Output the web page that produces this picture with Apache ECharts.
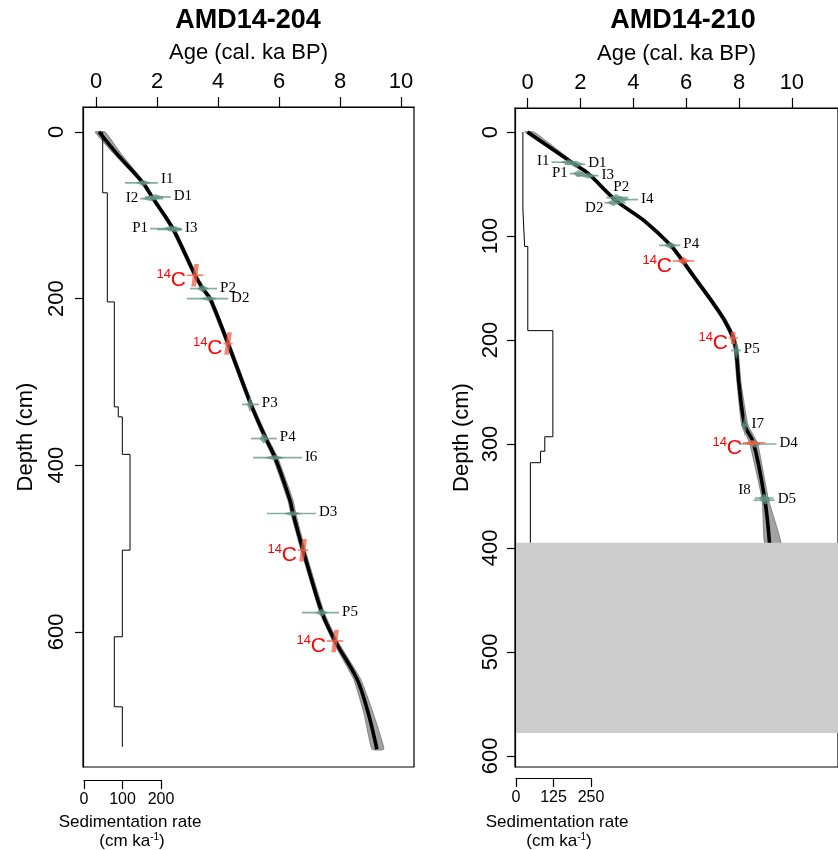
<!DOCTYPE html>
<html><head><meta charset="utf-8">
<script src="https://cdn.jsdelivr.net/npm/echarts@6/dist/echarts.min.js"></script>
<style>html,body{margin:0;padding:0;background:#fff}#c{width:838px;height:850px}</style>
</head><body><div id="c"></div>
<script>
// ================= DATA =================
// ---- AMD14-204 (left) ----
const L_curveDepth = [0, 26, 61, 78, 116, 172, 188, 200, 254, 327, 368, 391, 442, 458, 502, 577, 611, 657, 697, 741];
const L_curveAge   = [0.10, 0.68, 1.54, 1.84, 2.52, 3.25, 3.50, 3.74, 4.33, 5.08, 5.57, 5.87, 6.36, 6.46, 6.79, 7.41, 7.84, 8.56, 8.92, 9.21];
const L_bandMin    = [-0.03, 0.58, 1.48, 1.78, 2.46, 3.19, 3.44, 3.68, 4.27, 5.02, 5.50, 5.80, 6.29, 6.39, 6.72, 7.34, 7.76, 8.45, 8.78, 9.05];
const L_bandMax    = [0.30, 0.82, 1.60, 1.90, 2.58, 3.31, 3.56, 3.80, 4.39, 5.14, 5.64, 5.96, 6.46, 6.55, 6.86, 7.48, 7.92, 8.68, 9.08, 9.44];
const L_sedRate    = [48.6, 60.5, 78.7, 89, 99.5, 119.5, 99.5, 78.7, 99.5];
const L_sedTop     = [0, 73, 204, 330, 342, 387, 502, 606, 690];
const L_sedBottom  = [73, 204, 330, 342, 387, 502, 606, 690, 738];
const L_dateName   = ['I1', 'I2', 'D1', 'P1', 'I3', 'P2', 'D2', 'P3', 'P4', 'I6', 'D3', 'P5'];
const L_dateDepth  = [61, 80, 78, 116, 117, 188, 200, 327, 368, 391, 458, 577];
const L_dateAge    = [1.55, 1.80, 1.95, 2.45, 2.60, 3.50, 3.70, 5.05, 5.50, 5.85, 6.45, 7.40];
const L_dateMin    = [0.95, 1.45, 1.60, 1.77, 2.00, 3.08, 2.98, 4.79, 5.08, 5.15, 5.60, 6.75];
const L_dateMax    = [2.03, 2.20, 2.45, 2.80, 2.82, 3.97, 4.33, 5.34, 5.93, 6.75, 7.21, 7.97];
const L_dateSd     = [0.25, 0.30, 0.30, 0.25, 0.25, 0.20, 0.30, 0.10, 0.15, 0.35, 0.30, 0.20];
const L_c14Depth   = [172, 254, 502, 611];
const L_c14Age     = [3.25, 4.33, 6.79, 7.84];
const L_c14Min     = [2.98, 4.18, 6.62, 7.57];
const L_c14Max     = [3.52, 4.48, 6.96, 8.11];
const L_c14Sd      = [0.07, 0.07, 0.07, 0.07];
const L_ageTicks   = [0, 2, 4, 6, 8, 10];
const L_depthTicks = [0, 200, 400, 600];
const L_sedTicks   = [0, 100, 200];

// ---- AMD14-210 (right) ----
const R_curveDepth = [0, 30, 40, 66, 85, 109, 124, 140, 162, 181, 198, 210, 242, 282, 299, 354, 397];
const R_curveAge   = [0.00, 1.72, 2.30, 3.35, 4.40, 5.42, 5.87, 6.32, 6.95, 7.45, 7.78, 7.89, 8.00, 8.22, 8.55, 8.98, 9.16];
const R_bandMin    = [-0.10, 1.65, 2.23, 3.27, 4.32, 5.34, 5.79, 6.25, 6.87, 7.38, 7.71, 7.82, 7.93, 8.10, 8.40, 8.88, 8.98];
const R_bandMax    = [0.25, 1.80, 2.38, 3.43, 4.48, 5.50, 5.95, 6.40, 7.03, 7.53, 7.86, 7.97, 8.08, 8.34, 8.70, 9.12, 9.60];
const R_sedRate    = [24, 30, 41, 128, 100, 85, 50];
const R_sedTop     = [0, 74, 110, 191, 293, 307, 318];
const R_sedBottom  = [74, 110, 191, 293, 307, 318, 395];
const R_dateName   = ['I1', 'D1', 'P1', 'I3', 'P2', 'I4', 'D2', 'P4', 'P5', 'I7', 'D4', 'I8', 'D5'];
const R_dateDepth  = [29, 31, 40, 42, 63, 65, 68, 109, 210, 282, 300, 352, 354];
const R_dateAge    = [1.55, 1.85, 1.95, 2.30, 3.35, 3.55, 3.25, 5.40, 7.90, 8.22, 8.60, 8.95, 9.00];
const R_dateMin    = [0.91, 1.42, 1.60, 1.82, 2.98, 3.24, 2.91, 4.98, 7.70, 8.07, 8.00, 8.60, 8.55];
const R_dateMax    = [1.82, 2.18, 2.18, 2.69, 3.82, 4.18, 3.71, 5.78, 8.07, 8.36, 9.42, 9.30, 9.35];
const R_dateSd     = [0.30, 0.25, 0.25, 0.30, 0.25, 0.30, 0.25, 0.25, 0.10, 0.08, 0.25, 0.20, 0.20];
const R_c14Depth   = [124, 198, 299];
const R_c14Age     = [5.90, 7.78, 8.50];
const R_c14Min     = [5.50, 7.62, 8.15];
const R_c14Max     = [6.30, 7.95, 9.00];
const R_c14Sd      = [0.22, 0.15, 0.28];
const R_gapDepth   = [395, 578];
const R_ageTicks   = [0, 2, 4, 6, 8, 10];
const R_depthTicks = [0, 100, 200, 300, 400, 500, 600];
const R_sedTicks   = [0, 125, 250];

// ================= LAYOUT / STYLE =================
const FF = '"Liberation Sans", Arial, sans-serif';
const SERIF = '"Liberation Serif", "Times New Roman", serif';
const labelSide = {
  L: {I2: 'l', P1: 'l', I1: 'rt'},
  R: {I1: 'l', P1: 'l', D2: 'lb', P2: 'tr', I8: 'tl'}
};

function axisBase(extra) {
  return Object.assign({
    type: 'value',
    axisLine: {show: true, onZero: false, lineStyle: {color: '#000', width: 1.2}},
    splitLine: {show: false},
    nameTextStyle: {color: '#000', fontFamily: FF, fontSize: 22}
  }, extra);
}
function ticks(vals, len) { return {show: true, length: len, customValues: vals, lineStyle: {color: '#000', width: 1.2}}; }
function labels(vals, size, margin, rotate) {
  return {show: true, customValues: vals, color: '#000', fontFamily: FF, fontSize: size, margin: margin, rotate: rotate || 0};
}

function bandSeries(xi, yi, depth, mn, mx) {
  return {
    type: 'custom', xAxisIndex: xi, yAxisIndex: yi, z: 1, silent: true,
    data: [[mn[0], depth[0]]],
    renderItem(params, api) {
      const pts = [];
      for (let i = 0; i < depth.length; i++) pts.push(api.coord([mn[i], depth[i]]));
      for (let i = depth.length - 1; i >= 0; i--) pts.push(api.coord([mx[i], depth[i]]));
      return {type: 'polygon', shape: {points: pts, smooth: 0.12},
        style: {fill: '#a3a3a3', stroke: '#6e6e6e', lineWidth: 0.8}};
    }
  };
}
function stepSeries(xi, yi, rate, top, bottom) {
  const pts = [];
  rate.forEach((r, i) => { pts.push([r, top[i]]); pts.push([r, bottom[i]]); });
  return {type: 'line', xAxisIndex: xi, yAxisIndex: yi, z: 2, silent: true, data: pts,
    symbol: 'none', lineStyle: {color: '#000', width: 1}, animation: false};
}
function curveSeries(xi, yi, depth, age) {
  return {type: 'line', xAxisIndex: xi, yAxisIndex: yi, z: 3, silent: true,
    data: depth.map((d, i) => [age[i], d]), smooth: 0.35,
    symbol: 'none', lineStyle: {color: '#000', width: 3.6}, animation: false};
}
function dateSeries(xi, yi, panel, names, depth, age, mn, mx, sd, isC14, slant) {
  const data = depth.map((d, i) => [age[i], d, mn[i], mx[i], sd[i]]);
  return {
    type: 'custom', xAxisIndex: xi, yAxisIndex: yi, z: isC14 ? 5 : 4, silent: true,
    data: data, encode: {x: 0, y: 1},
    renderItem(params, api) {
      const i = params.dataIndex;
      const d = api.value(1);
      const c = api.coord([api.value(0), d]);
      const pl = api.coord([api.value(2), d]);
      const ph = api.coord([api.value(3), d]);
      const w = Math.max(1.8, Math.abs(api.size([api.value(4), 0])[0]));
      const hh = Math.min(12, Math.max(2.6, 24 / w));
      const col = isC14 ? 'rgba(242,92,68,0.75)' : 'rgba(96,146,128,0.75)';
      let shape;
      if (isC14 && w < 4) {
        shape = [[c[0] - 2.3 + slant, c[1] - hh], [c[0] + 2.3 + slant, c[1] - hh],
                 [c[0] + 2.3 - slant, c[1] + hh], [c[0] - 2.3 - slant, c[1] + hh]];
      } else {
        shape = [[c[0] - w, c[1]], [c[0] + slant, c[1] - hh], [c[0] + w, c[1]], [c[0] - slant, c[1] + hh]];
      }
      const children = [
        {type: 'line', shape: {x1: pl[0], y1: c[1], x2: ph[0], y2: c[1]}, style: {stroke: col, lineWidth: 1.7}},
        {type: 'polygon', shape: {points: shape}, style: {fill: col}}
      ];
      if (isC14) {
        children.push({type: 'text', x: pl[0] - 1, y: c[1] + 5,
          style: {text: 'C', font: '21px ' + FF, fill: '#ff0000', align: 'right', textAlign: 'right', verticalAlign: 'middle', textVerticalAlign: 'middle'}});
        children.push({type: 'text', x: pl[0] - 16, y: c[1] - 1,
          style: {text: '14', font: '13px ' + FF, fill: '#ff0000', align: 'right', textAlign: 'right', verticalAlign: 'middle', textVerticalAlign: 'middle'}});
      } else {
        const nm = names[i];
        const side = labelSide[panel][nm] || 'r';
        let x, y, al;
        if (side === 'r') { x = ph[0] + 3; y = c[1] - 1; al = 'left'; }
        else if (side === 'rt') { x = ph[0] + 3; y = c[1] - 4; al = 'left'; }
        else if (side === 'l') { x = pl[0] - 2; y = c[1] - 1; al = 'right'; }
        else if (side === 'lb') { x = pl[0] - 1; y = c[1] + 5; al = 'right'; }
        else if (side === 'tr') { x = pl[0] + 7; y = c[1] - 10; al = 'left'; }
        else { x = pl[0] - 4; y = c[1] - 8; al = 'right'; }
        children.push({type: 'text', x: x, y: y,
          style: {text: nm, font: '15px ' + SERIF, fill: '#000', align: al, textAlign: al, verticalAlign: 'middle', textVerticalAlign: 'middle'}});
      }
      return {type: 'group', children: children};
    }
  };
}
function gapSeries(xi, yi, gap) {
  return {type: 'custom', xAxisIndex: xi, yAxisIndex: yi, z: 8, silent: true,
    data: [[0, gap[0]]],
    renderItem(params, api) {
      const cs = params.coordSys;
      const y1 = api.coord([0, gap[0]])[1], y2 = api.coord([0, gap[1]])[1];
      return {type: 'rect', shape: {x: cs.x + 1, y: y1, width: cs.width, height: y2 - y1}, style: {fill: '#cccccc'}};
    }
  };
}

const chart = echarts.init(document.getElementById('c'), null, {renderer: 'canvas'});
const option = {
  animation: false,
  backgroundColor: '#fff',
  grid: [
    {left: 83, top: 107, width: 331, height: 660, show: true, borderColor: '#000', borderWidth: 1.2, backgroundColor: 'transparent'},
    {left: 515, top: 108, width: 336, height: 659, show: true, borderColor: '#000', borderWidth: 1.2, backgroundColor: 'transparent'},
    {left: 84, top: 779, width: 77, height: 1, show: false},
    {left: 516, top: 777, width: 75, height: 1, show: false}
  ],
  xAxis: [
    axisBase({gridIndex: 0, position: 'top', min: -0.426, max: 10.426,
      axisTick: ticks(L_ageTicks, 10), axisLabel: labels(L_ageTicks, 22, 14),
      name: 'Age (cal. ka BP)', nameLocation: 'middle', nameGap: 43}),
    axisBase({gridIndex: 0, position: 'bottom', min: -2.6, max: 857, show: false}),
    axisBase({gridIndex: 2, position: 'bottom', min: 0, max: 200,
      axisTick: ticks(L_sedTicks, 9), axisLabel: labels(L_sedTicks, 16, 12)}),
    axisBase({gridIndex: 1, position: 'top', min: -0.473, max: 11.745,
      axisTick: ticks(R_ageTicks, 10), axisLabel: labels(R_ageTicks, 22, 14),
      name: 'Age (cal. ka BP)', nameLocation: 'middle', nameGap: 43}),
    axisBase({gridIndex: 1, position: 'bottom', min: -3.33, max: 1116.7, show: false}),
    axisBase({gridIndex: 3, position: 'bottom', min: 0, max: 250,
      axisTick: ticks(R_sedTicks, 9), axisLabel: labels(R_sedTicks, 16, 12)})
  ],
  yAxis: [
    axisBase({gridIndex: 0, inverse: true, min: -30, max: 762.3,
      axisTick: ticks(L_depthTicks, 8), axisLabel: labels(L_depthTicks, 22, 15, 90),
      name: 'Depth (cm)', nameLocation: 'middle', nameGap: 46, nameRotate: 90}),
    axisBase({gridIndex: 1, inverse: true, min: -23.1, max: 610.6,
      axisTick: ticks(R_depthTicks, 8), axisLabel: labels(R_depthTicks, 22, 13, 90),
      name: 'Depth (cm)', nameLocation: 'middle', nameGap: 42, nameRotate: 90}),
    axisBase({gridIndex: 2, min: 0, max: 1, show: false}),
    axisBase({gridIndex: 3, min: 0, max: 1, show: false})
  ],
  graphic: [
    {type: 'text', x: 248, y: 21, style: {text: 'AMD14-204', font: 'bold 27px ' + FF, fill: '#000', align: 'center', textAlign: 'center', verticalAlign: 'middle', textVerticalAlign: 'middle'}},
    {type: 'text', x: 683, y: 21, style: {text: 'AMD14-210', font: 'bold 27px ' + FF, fill: '#000', align: 'center', textAlign: 'center', verticalAlign: 'middle', textVerticalAlign: 'middle'}},
    {type: 'text', x: 130, y: 822, style: {text: 'Sedimentation rate', font: '17px ' + FF, fill: '#000', align: 'center', textAlign: 'center', verticalAlign: 'middle', textVerticalAlign: 'middle'}},
    {type: 'text', x: 132, y: 841, style: {text: '{a|(cm ka}{b|-1}{a|)}', fill: '#000', align: 'center', textAlign: 'center', verticalAlign: 'middle', textVerticalAlign: 'middle',
      rich: {a: {font: '17px ' + FF, fill: '#000'}, b: {font: '10px ' + FF, fill: '#000', verticalAlign: 'top'}}}},
    {type: 'text', x: 557, y: 822, style: {text: 'Sedimentation rate', font: '17px ' + FF, fill: '#000', align: 'center', textAlign: 'center', verticalAlign: 'middle', textVerticalAlign: 'middle'}},
    {type: 'text', x: 559, y: 841, style: {text: '{a|(cm ka}{b|-1}{a|)}', fill: '#000', align: 'center', textAlign: 'center', verticalAlign: 'middle', textVerticalAlign: 'middle',
      rich: {a: {font: '17px ' + FF, fill: '#000'}, b: {font: '10px ' + FF, fill: '#000', verticalAlign: 'top'}}}}
  ],
  series: [
    bandSeries(0, 0, L_curveDepth, L_bandMin, L_bandMax),
    stepSeries(1, 0, L_sedRate, L_sedTop, L_sedBottom),
    curveSeries(0, 0, L_curveDepth, L_curveAge),
    dateSeries(0, 0, 'L', L_dateName, L_dateDepth, L_dateAge, L_dateMin, L_dateMax, L_dateSd, false, 0),
    dateSeries(0, 0, 'L', null, L_c14Depth, L_c14Age, L_c14Min, L_c14Max, L_c14Sd, true, 1.5),

    bandSeries(3, 1, R_curveDepth, R_bandMin, R_bandMax),
    stepSeries(4, 1, R_sedRate, R_sedTop, R_sedBottom),
    curveSeries(3, 1, R_curveDepth, R_curveAge),
    dateSeries(3, 1, 'R', R_dateName, R_dateDepth, R_dateAge, R_dateMin, R_dateMax, R_dateSd, false, 0),
    dateSeries(3, 1, 'R', null, R_c14Depth, R_c14Age, R_c14Min, R_c14Max, R_c14Sd, true, 0),
    gapSeries(3, 1, R_gapDepth)
  ]
};
chart.setOption(option);
</script></body></html>
